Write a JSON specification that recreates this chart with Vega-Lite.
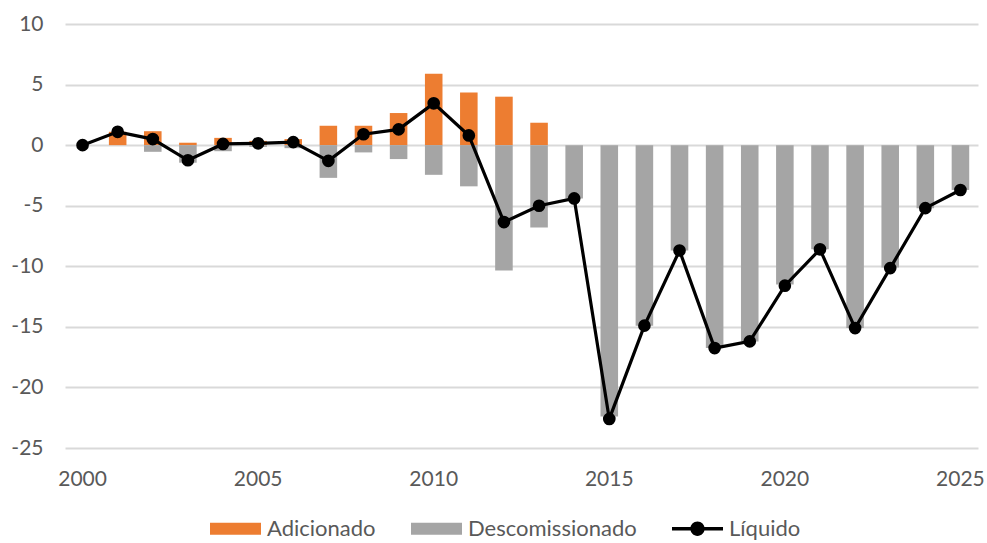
{
  "$schema": "https://vega.github.io/schema/vega-lite/v6.json",
  "autosize": {"type": "none"},
  "width": 913,
  "height": 424,
  "padding": {"left": 65, "top": 24, "right": 9, "bottom": 95},
  "background": "white",
  "config": {
    "view": {"stroke": null},
    "font": "Lato",
    "axis": {"labelFont": "Lato", "labelFontSize": 21, "labelColor": "#595959", "domain": false, "ticks": false, "title": null},
    "legend": {"labelFont": "Lato", "labelFontSize": 22, "labelColor": "#595959", "labelLimit": 400}
  },
  "datasets": {
    "barras": [
      {"ano": 2001, "serie": "Adicionado", "valor": 1.1},
      {"ano": 2002, "serie": "Adicionado", "valor": 1.15},
      {"ano": 2002, "serie": "Descomissionado", "valor": -0.55},
      {"ano": 2003, "serie": "Adicionado", "valor": 0.2},
      {"ano": 2003, "serie": "Descomissionado", "valor": -1.45},
      {"ano": 2004, "serie": "Adicionado", "valor": 0.6},
      {"ano": 2004, "serie": "Descomissionado", "valor": -0.5},
      {"ano": 2005, "serie": "Adicionado", "valor": 0.35},
      {"ano": 2005, "serie": "Descomissionado", "valor": -0.15},
      {"ano": 2006, "serie": "Adicionado", "valor": 0.5},
      {"ano": 2006, "serie": "Descomissionado", "valor": -0.25},
      {"ano": 2007, "serie": "Adicionado", "valor": 1.6},
      {"ano": 2007, "serie": "Descomissionado", "valor": -2.7},
      {"ano": 2008, "serie": "Adicionado", "valor": 1.6},
      {"ano": 2008, "serie": "Descomissionado", "valor": -0.6},
      {"ano": 2009, "serie": "Adicionado", "valor": 2.65},
      {"ano": 2009, "serie": "Descomissionado", "valor": -1.15},
      {"ano": 2010, "serie": "Adicionado", "valor": 5.9},
      {"ano": 2010, "serie": "Descomissionado", "valor": -2.45},
      {"ano": 2011, "serie": "Adicionado", "valor": 4.35},
      {"ano": 2011, "serie": "Descomissionado", "valor": -3.4},
      {"ano": 2012, "serie": "Adicionado", "valor": 4.0},
      {"ano": 2012, "serie": "Descomissionado", "valor": -10.35},
      {"ano": 2013, "serie": "Adicionado", "valor": 1.85},
      {"ano": 2013, "serie": "Descomissionado", "valor": -6.8},
      {"ano": 2014, "serie": "Descomissionado", "valor": -4.4},
      {"ano": 2015, "serie": "Descomissionado", "valor": -22.4},
      {"ano": 2016, "serie": "Descomissionado", "valor": -14.9},
      {"ano": 2017, "serie": "Descomissionado", "valor": -8.7},
      {"ano": 2018, "serie": "Descomissionado", "valor": -16.75},
      {"ano": 2019, "serie": "Descomissionado", "valor": -16.2},
      {"ano": 2020, "serie": "Descomissionado", "valor": -11.5},
      {"ano": 2021, "serie": "Descomissionado", "valor": -8.6},
      {"ano": 2022, "serie": "Descomissionado", "valor": -15.1},
      {"ano": 2023, "serie": "Descomissionado", "valor": -10.1},
      {"ano": 2024, "serie": "Descomissionado", "valor": -5.2},
      {"ano": 2025, "serie": "Descomissionado", "valor": -3.7}
    ],
    "liquido": [
      {"ano": 2000, "valor": 0},
      {"ano": 2001, "valor": 1.1},
      {"ano": 2002, "valor": 0.5},
      {"ano": 2003, "valor": -1.25},
      {"ano": 2004, "valor": 0.1},
      {"ano": 2005, "valor": 0.15},
      {"ano": 2006, "valor": 0.25},
      {"ano": 2007, "valor": -1.3},
      {"ano": 2008, "valor": 0.9},
      {"ano": 2009, "valor": 1.3},
      {"ano": 2010, "valor": 3.45},
      {"ano": 2011, "valor": 0.8},
      {"ano": 2012, "valor": -6.35},
      {"ano": 2013, "valor": -5.0},
      {"ano": 2014, "valor": -4.4},
      {"ano": 2015, "valor": -22.6},
      {"ano": 2016, "valor": -14.9},
      {"ano": 2017, "valor": -8.7},
      {"ano": 2018, "valor": -16.75},
      {"ano": 2019, "valor": -16.2},
      {"ano": 2020, "valor": -11.6},
      {"ano": 2021, "valor": -8.6},
      {"ano": 2022, "valor": -15.1},
      {"ano": 2023, "valor": -10.15},
      {"ano": 2024, "valor": -5.2},
      {"ano": 2025, "valor": -3.7}
    ]
  },
  "encoding": {
    "x": {
      "field": "ano",
      "type": "ordinal",
      "scale": {"paddingInner": 0.5, "paddingOuter": 0.25},
      "axis": {"values": [2000, 2005, 2010, 2015, 2020, 2025], "labelAngle": 0, "labelPadding": 20, "grid": false}
    },
    "y": {
      "field": "valor",
      "type": "quantitative",
      "scale": {"domain": [-25, 10], "nice": false, "zero": false},
      "axis": {"values": [-25, -20, -15, -10, -5, 0, 5, 10], "labelExpr": "datum.value + ''", "grid": true, "gridColor": "#d9d9d9", "gridWidth": 2, "labelPadding": 22}
    }
  },
  "layer": [
    {
      "data": {"name": "barras"},
      "mark": {"type": "bar"},
      "encoding": {
        "y": {"field": "valor", "type": "quantitative", "stack": null},
        "color": {
          "field": "serie",
          "type": "nominal",
          "scale": {"domain": ["Adicionado", "Descomissionado", "Líquido"], "range": ["#ED7D31", "#A5A5A5", "#000000"]},
          "legend": {
            "title": null,
            "orient": "none",
            "direction": "horizontal",
            "legendX": 145,
            "legendY": 479,
            "symbolSize": 2601,
            "symbolStrokeWidth": 0,
            "labelOffset": 6,
            "columnPadding": 35,
            "encode": {
              "symbols": {
                "update": {
                  "shape": {"signal": "datum.value === 'Líquido' ? 'M-1,-0.065H1V0.065H-1Z M-0.28,0A0.28,0.28 0 1,1 0.28,0A0.28,0.28 0 1,1 -0.28,0Z' : 'M-1,-0.235H1V0.235H-1Z'"},
                  "strokeWidth": {"value": 0}
                }
              }
            }
          }
        }
      }
    },
    {
      "data": {"name": "liquido"},
      "mark": {"type": "line", "color": "#000000", "strokeWidth": 3.2, "point": {"filled": true, "size": 160, "color": "#000000"}},
      "encoding": {}
    }
  ]
}
